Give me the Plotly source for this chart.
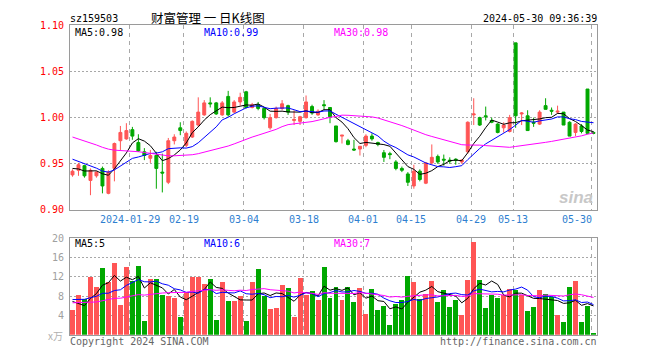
import plotly.graph_objects as go

# ---------------- data ----------------
dates = [
    "2024-01-15", "2024-01-16", "2024-01-17", "2024-01-18", "2024-01-19",
    "2024-01-22", "2024-01-23", "2024-01-24", "2024-01-25", "2024-01-26",
    "2024-01-29", "2024-01-30", "2024-01-31", "2024-02-01", "2024-02-02",
    "2024-02-05", "2024-02-06", "2024-02-07", "2024-02-08", "2024-02-19",
    "2024-02-20", "2024-02-21", "2024-02-22", "2024-02-23", "2024-02-26",
    "2024-02-27", "2024-02-28", "2024-02-29", "2024-03-01", "2024-03-04",
    "2024-03-05", "2024-03-06", "2024-03-07", "2024-03-08", "2024-03-11",
    "2024-03-12", "2024-03-13", "2024-03-14", "2024-03-15", "2024-03-18",
    "2024-03-19", "2024-03-20", "2024-03-21", "2024-03-22", "2024-03-25",
    "2024-03-26", "2024-03-27", "2024-03-28", "2024-03-29", "2024-04-01",
    "2024-04-02", "2024-04-03", "2024-04-08", "2024-04-09", "2024-04-10",
    "2024-04-11", "2024-04-12", "2024-04-15", "2024-04-16", "2024-04-17",
    "2024-04-18", "2024-04-19", "2024-04-22", "2024-04-23", "2024-04-24",
    "2024-04-25", "2024-04-26", "2024-04-29", "2024-04-30", "2024-05-06",
    "2024-05-07", "2024-05-08", "2024-05-09", "2024-05-10", "2024-05-13",
    "2024-05-14", "2024-05-15", "2024-05-16", "2024-05-17", "2024-05-20",
    "2024-05-21", "2024-05-22", "2024-05-23", "2024-05-24", "2024-05-27",
    "2024-05-28", "2024-05-29", "2024-05-30",
]

open_ = [
    0.938, 0.943, 0.948, 0.932, 0.937, 0.945, 0.918, 0.945, 0.975, 0.977,
    0.987, 0.973, 0.963, 0.956, 0.959, 0.941, 0.930, 0.975, 0.989, 0.970,
    0.979, 0.992, 1.003, 1.016, 1.016, 1.003, 1.023, 1.006, 1.017, 1.028,
    1.011, 1.014, 1.010, 0.989, 1.000, 1.010, 1.013, 0.997, 0.996, 1.000,
    1.012, 1.003, 1.014, 1.011, 0.991, 0.980, 0.975, 0.966, 0.966, 0.970,
    0.980, 0.973, 0.962, 0.961, 0.952, 0.945, 0.939, 0.926, 0.942, 0.929,
    0.951, 0.958, 0.955, 0.954, 0.955, 0.952, 0.963, 1.003, 1.000, 1.002,
    0.997, 0.993, 0.989, 0.985, 1.081, 1.004, 1.002, 0.995, 0.993, 1.013,
    1.008, 1.006, 1.006, 0.995, 0.984, 0.991, 1.031, 0.984,
]
high = [
    0.944, 0.951, 0.949, 0.945, 0.942, 0.947, 0.943, 0.973, 0.991, 0.994,
    0.990, 0.982, 0.967, 0.965, 0.963, 0.961, 0.978, 0.982, 0.995, 0.985,
    0.997, 1.022, 1.019, 1.022, 1.017, 1.018, 1.029, 1.019, 1.027, 1.029,
    1.016, 1.017, 1.011, 1.004, 1.012, 1.019, 1.014, 1.008, 1.002, 1.024,
    1.014, 1.009, 1.019, 1.011, 0.991, 0.981, 0.977, 0.976, 0.969, 0.982,
    0.983, 0.974, 0.965, 0.963, 0.954, 0.947, 0.941, 0.949, 0.944, 0.952,
    0.971, 0.960, 0.960, 0.957, 0.956, 0.955, 0.996, 1.021, 1.001, 1.012,
    1.000, 0.994, 0.995, 1.003, 1.081, 1.006, 1.008, 1.000, 1.008, 1.021,
    1.011, 1.013, 1.006, 0.996, 0.994, 0.993, 1.031, 0.985,
]
low = [
    0.936, 0.937, 0.935, 0.916, 0.935, 0.918, 0.917, 0.931, 0.965, 0.976,
    0.976, 0.963, 0.954, 0.951, 0.923, 0.919, 0.928, 0.971, 0.981, 0.968,
    0.978, 0.990, 1.002, 1.011, 1.003, 1.002, 1.001, 1.005, 1.013, 1.010,
    1.010, 1.008, 0.998, 0.987, 0.999, 1.008, 1.003, 0.992, 0.992, 0.999,
    1.003, 1.002, 1.008, 0.994, 0.973, 0.972, 0.970, 0.964, 0.959, 0.968,
    0.975, 0.969, 0.952, 0.955, 0.943, 0.941, 0.926, 0.923, 0.931, 0.928,
    0.949, 0.950, 0.948, 0.950, 0.949, 0.950, 0.961, 0.992, 0.991, 0.997,
    0.994, 0.983, 0.984, 0.984, 0.989, 0.992, 0.986, 0.990, 0.992, 1.009,
    1.003, 1.004, 0.992, 0.980, 0.980, 0.983, 0.982, 0.982,
]
close = [
    0.942, 0.949, 0.937, 0.943, 0.941, 0.926, 0.941, 0.972, 0.984, 0.986,
    0.980, 0.964, 0.959, 0.959, 0.945, 0.940, 0.975, 0.979, 0.986, 0.983,
    0.996, 1.006, 1.016, 1.015, 1.004, 1.016, 1.003, 1.017, 1.022, 1.011,
    1.014, 1.010, 1.000, 1.000, 1.010, 1.015, 1.006, 0.998, 1.001, 1.017,
    1.005, 1.007, 1.013, 1.001, 0.974, 0.981, 0.971, 0.965, 0.969, 0.980,
    0.977, 0.971, 0.957, 0.960, 0.945, 0.943, 0.930, 0.942, 0.933, 0.951,
    0.957, 0.952, 0.954, 0.953, 0.954, 0.954, 0.995, 1.004, 0.992, 1.001,
    0.995, 0.984, 0.992, 1.000, 1.002, 1.005, 0.986, 0.994, 1.006, 1.009,
    1.007, 1.007, 0.992, 0.980, 0.993, 0.985, 0.983, 0.983,
]
volume = [
    5.07, 8.27, 7.40, 11.90, 9.87, 13.70, 10.90, 14.90, 6.07, 13.90,
    11.10, 14.30, 2.87, 11.50, 11.50, 8.27, 7.93, 7.53, 3.67, 8.73,
    11.90, 11.90, 10.50, 11.50, 3.07, 10.90, 7.07, 7.07, 7.93, 2.87,
    10.90, 13.50, 7.93, 5.27, 5.53, 10.30, 9.73, 3.73, 11.70, 8.27,
    9.07, 7.27, 13.90, 7.53, 9.87, 7.27, 9.87, 6.67, 9.67, 4.27,
    9.47, 5.07, 5.87, 2.07, 6.27, 7.27, 12.07, 10.87, 7.47, 8.40,
    11.07, 6.67, 9.27, 5.67, 7.27, 4.07, 11.27, 19.27, 11.27, 5.47,
    8.27, 7.67, 8.27, 9.47, 9.27, 8.27, 4.87, 5.67, 9.27, 8.47,
    7.87, 4.07, 2.67, 9.87, 11.07, 2.67, 5.87, 0.27,
]

# sessions before the visible window (needed for the moving averages)
prior_close = [
    1.010, 1.008, 1.004, 1.006, 1.002, 1.000, 1.005,
    0.995, 0.992, 0.990, 0.988, 0.985, 0.986, 0.982, 0.980, 0.978, 0.979,
    0.976, 0.978, 0.976,
    0.972, 0.968, 0.965, 0.962, 0.958,
    0.952, 0.948, 0.944, 0.939,
]
prior_volume = [
    8.5, 7.5, 8.0, 8.5,
    5.5, 6.0, 5.0, 5.8, 6.2, 5.2, 5.5, 6.0,
    6.5, 5.5, 6.2, 5.8, 6.0, 5.6, 6.3, 5.7,
    8.0, 7.2, 8.5, 7.0, 7.6,
    10.6, 9.4, 4.5, 4.8,
]

tick_dates = ["2024-01-29", "2024-02-19", "2024-03-04", "2024-03-18",
              "2024-04-01", "2024-04-15", "2024-04-29", "2024-05-13",
              "2024-05-30"]
tick_labels = ["2024-01-29", "02-19", "03-04", "03-18", "04-01", "04-15",
               "04-29", "05-13", "05-30"]

price_ticks = [0.90, 0.95, 1.00, 1.05, 1.10]
volume_ticks = [4, 8, 12, 16, 20]

title_code = "sz159503"
title_name = "财富管理 一 日K线图"
timestamp = "2024-05-30 09:36:39"
price_ma_labels = ["MA5:0.98", "MA10:0.99", "MA30:0.98"]
volume_ma_labels = ["MA5:5", "MA10:6", "MA30:7"]


# ---------------- helpers ----------------
def moving_average(values, prior, n):
    seq = list(prior) + list(values)
    out = []
    for k in range(len(prior), len(seq)):
        win = seq[k - n + 1:k + 1]
        out.append(sum(win) / len(win))
    return out


W, H = 660, 360
PL, PR = 70, 597          # plot left / right in px
P_TOP, P_BOT = 20, 211    # price panel
V_TOP, V_BOT = 240, 340   # volume panel


def fx(px):
    return px / W


def fy(py):
    return 1 - py / H


RED = "#ff5555"
GREEN = "#00a800"
MA_COLORS = ["#000000", "#0000ff", "#ff00ff"]
GRID = "#a8a8a8"
FRAME = "#9a9a9a"
MONO = "DejaVu Sans Mono, Liberation Mono, monospace"
FS = 10

n = len(dates)
xs = list(range(n))
off = 2.5 / 6.0
x_range = [-off, n - 1 + (6 - 2.5) / 6.0]
tick_pos = [dates.index(d) - off for d in tick_dates]

fig = go.Figure()

# candles
fig.add_trace(go.Candlestick(
    x=xs, open=open_, high=high, low=low, close=close,
    increasing=dict(line=dict(color=RED, width=1), fillcolor=RED),
    decreasing=dict(line=dict(color=GREEN, width=1), fillcolor=GREEN),
    whiskerwidth=0, hoverinfo="skip", showlegend=False,
    xaxis="x", yaxis="y",
))

# price moving averages
for period, col in zip([5, 10, 30], MA_COLORS):
    fig.add_trace(go.Scatter(
        x=xs, y=moving_average(close, prior_close, period), mode="lines",
        line=dict(color=col, width=1), hoverinfo="skip", showlegend=False,
        xaxis="x", yaxis="y",
    ))

# volume bars
vol_colors = [RED if c >= o else GREEN for o, c in zip(open_, close)]
fig.add_trace(go.Bar(
    x=xs, y=volume, width=0.83, marker=dict(color=vol_colors, line=dict(width=0)),
    hoverinfo="skip", showlegend=False, xaxis="x2", yaxis="y2",
))
for period, col in zip([5, 10, 30], MA_COLORS):
    fig.add_trace(go.Scatter(
        x=xs, y=moving_average(volume, prior_volume, period), mode="lines",
        line=dict(color=col, width=1), hoverinfo="skip", showlegend=False,
        xaxis="x2", yaxis="y2",
    ))

common_x = dict(
    range=x_range, domain=[fx(PL), fx(PR)], showticklabels=False,
    tickmode="array", tickvals=tick_pos, ticks="",
    showgrid=True, gridcolor=GRID, gridwidth=1, griddash="4px,4px",
    showline=True, mirror=True, linecolor=FRAME, linewidth=1,
    zeroline=False, fixedrange=True, rangeslider=dict(visible=False),
)

annotations = []


def txt(x, y, s, color="#000000", size=FS, family=MONO, xanchor="left", **kw):
    annotations.append(dict(
        x=x, y=y, xref="paper", yref="paper", text=s, showarrow=False,
        xanchor=xanchor, yanchor="middle", borderpad=0,
        font=dict(color=color, size=size, family=family), **kw))


txt(fx(69), fy(13), title_code)
txt(fx(150), fy(12), title_name, size=12.5,
    family="Noto Sans CJK SC, Noto Sans, sans-serif")
txt(fx(598), fy(13), timestamp, xanchor="right")

for lab, px, col in zip(price_ma_labels, [74, 203, 333], MA_COLORS):
    txt(fx(px), fy(27), lab, color=col)
for lab, px, col in zip(volume_ma_labels, [74, 203, 333], MA_COLORS):
    txt(fx(px), fy(246), lab, color=col)

# date labels under the price panel
for pos, lab in zip(tick_pos, tick_labels):
    last = lab == tick_labels[-1]
    annotations.append(dict(x=pos + (0.3 if last else 0), y=fy(221),
                            xref="x", yref="paper", text=lab, showarrow=False,
                            xanchor="right" if last else "center",
                            yanchor="middle", borderpad=0,
                            font=dict(color="#2f7fd0", size=FS, family=MONO)))

txt(fx(64), fy(341), "x万", color="#b0b0b0", size=10,
    family="Noto Sans CJK SC, sans-serif", xanchor="right")
txt(fx(69), fy(347), "Copyright 2024 SINA.COM", color="#666666")
txt(fx(598), fy(347), "http://finance.sina.com.cn", color="#666666",
    xanchor="right")
txt(fx(594), fy(198), "<b><i>sina</i></b>", color="#c8c8c8", size=17,
    family="Liberation Sans, Arial, sans-serif", xanchor="right")

fig.update_layout(
    width=W, height=H, margin=dict(l=0, r=0, t=0, b=0),
    paper_bgcolor="white", plot_bgcolor="white",
    boxgap=0.3, bargap=0,
    xaxis=dict(anchor="y", **common_x),
    xaxis2=dict(anchor="y2", **common_x),
    yaxis=dict(
        range=[0.90, 1.10], domain=[fy(P_BOT), fy(P_TOP)],
        tickmode="array", tickvals=price_ticks,
        ticktext=[f"{v:.2f}" for v in price_ticks],
        tickfont=dict(color="#ff0000", size=FS, family=MONO),
        ticks="outside", ticklen=3, tickcolor="rgba(0,0,0,0)",
        showgrid=True, gridcolor=GRID, gridwidth=1, griddash="2px,2px",
        showline=True, mirror=True, linecolor=FRAME, linewidth=1,
        zeroline=False, fixedrange=True,
    ),
    yaxis2=dict(
        range=[0, 20], domain=[fy(V_BOT), fy(V_TOP)],
        tickmode="array", tickvals=volume_ticks,
        ticktext=[str(v) for v in volume_ticks],
        tickfont=dict(color="#a0a0a0", size=FS, family=MONO),
        ticks="outside", ticklen=3, tickcolor="rgba(0,0,0,0)",
        showgrid=True, gridcolor=GRID, gridwidth=1, griddash="2px,2px",
        showline=True, mirror=True, linecolor=FRAME, linewidth=1,
        zeroline=False, fixedrange=True,
    ),
    annotations=annotations,
)

fig.write_html(
    "out.html",
    config={"displayModeBar": False, "staticPlot": True},
    post_script="document.body.style.margin='0';document.body.style.overflow='hidden';",
)
